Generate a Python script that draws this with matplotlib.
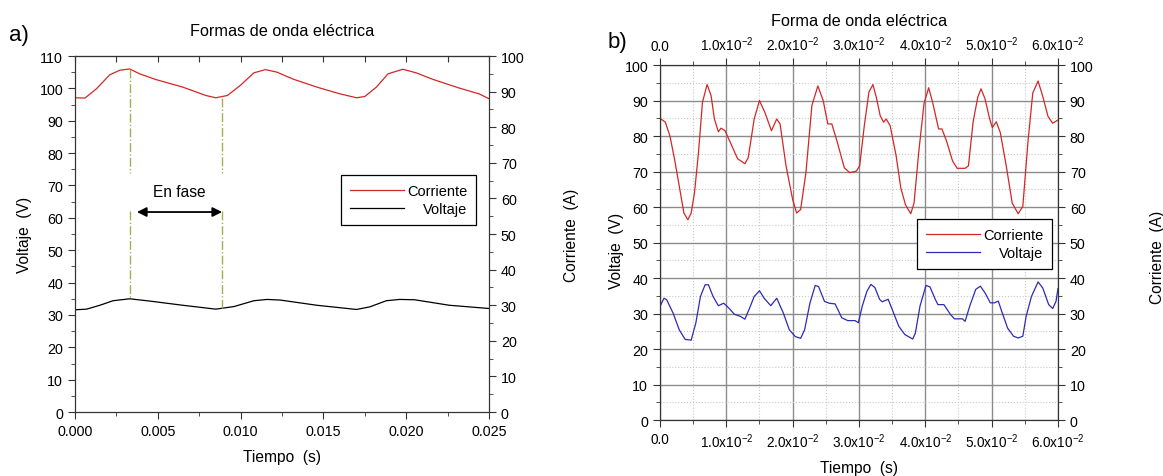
import matplotlib
matplotlib.use("Agg")
import matplotlib.pyplot as plt
from matplotlib.ticker import MultipleLocator, FixedLocator, FormatStrFormatter, NullFormatter

plt.rcParams["font.family"] = ["Liberation Sans", "DejaVu Sans"]
plt.rcParams["mathtext.fontset"] = "custom"
plt.rcParams["mathtext.rm"] = "Liberation Sans"
plt.rcParams["mathtext.it"] = "Liberation Sans"

# ── panel a) data (read off the picture) ─────────────────────────────────────
a_corr_t = [0.0, 0.0006, 0.0013, 0.0021, 0.0027, 0.0033, 0.0039, 0.0049, 0.0065,
            0.0079, 0.0085, 0.0092, 0.0100, 0.0108, 0.0115, 0.0122, 0.0132, 0.0146,
            0.0160, 0.0170, 0.0175, 0.0182, 0.0189, 0.0198, 0.0206, 0.0216, 0.0232,
            0.0244, 0.0250]
a_corr_v = [97.1, 97.0, 99.9, 104.2, 105.6, 106.0, 104.5, 102.7, 100.4,
            97.8, 97.1, 97.8, 101.0, 104.8, 105.8, 105.0, 102.8, 100.4,
            98.3, 97.1, 97.5, 100.4, 104.5, 105.9, 104.8, 102.8, 100.1,
            98.3, 96.8]
a_volt_t = [0.0, 0.0007, 0.0015, 0.0023, 0.0033, 0.0045, 0.0065, 0.0085, 0.0096,
            0.0108, 0.0116, 0.0124, 0.0146, 0.0170, 0.0178, 0.0188, 0.0196, 0.0205,
            0.0226, 0.0250]
a_volt_v = [31.6, 31.8, 33.0, 34.4, 35.0, 34.3, 33.0, 31.8, 32.6,
            34.4, 34.8, 34.6, 33.0, 31.7, 32.5, 34.4, 34.8, 34.7,
            33.0, 32.0]
phase_t = [0.0033, 0.00888]
phase_segments = [[(106, 74), (62, 35)], [(97, 74), (62, 32)]]
arrow_t = (0.00374, 0.00888)
arrow_v = 61.8

# ── panel b) data ────────────────────────────────────────────────────────────
b_corr_t = [0.0, 0.0008, 0.0015, 0.0022, 0.0029, 0.0036, 0.0042, 0.0047, 0.0052,
            0.0058, 0.0064, 0.0071, 0.0077, 0.0082, 0.0088, 0.0092, 0.0098, 0.0105,
            0.0117, 0.0128, 0.0133, 0.0142, 0.0150, 0.0158, 0.0168, 0.0176, 0.0181,
            0.0190, 0.0200, 0.0206, 0.0212, 0.0220, 0.0229, 0.0238, 0.0246, 0.0253,
            0.0259, 0.0266, 0.0278, 0.0286, 0.0296, 0.0301, 0.0308, 0.0315, 0.0321,
            0.0326, 0.0332, 0.0337, 0.0341, 0.0347, 0.0356, 0.0363, 0.0370, 0.0378,
            0.0383, 0.0390, 0.0398, 0.0405, 0.0411, 0.0420, 0.0425, 0.0432, 0.0441,
            0.0448, 0.0460, 0.0465, 0.0472, 0.0479, 0.0484, 0.0490, 0.0497, 0.0501,
            0.0507, 0.0513, 0.0522, 0.0531, 0.0540, 0.0547, 0.0555, 0.0562, 0.0570,
            0.0577, 0.0585, 0.0592, 0.0600]
b_corr_v = [85.0, 83.9, 80.0, 73.4, 65.9, 58.3, 56.4, 58.3, 64.0,
            75.3, 89.5, 94.5, 91.4, 84.8, 81.2, 82.2, 81.5, 78.6,
            73.6, 72.2, 73.9, 84.8, 90.0, 86.7, 81.5, 84.8, 83.4,
            71.6, 62.1, 58.3, 59.3, 69.7, 88.6, 94.1, 90.0, 83.4,
            83.4, 79.1, 71.0, 69.7, 70.1, 71.6, 82.9, 92.4, 94.5,
            91.0, 85.7, 83.9, 84.8, 82.9, 74.4, 65.4, 60.7, 58.1,
            61.1, 75.3, 89.1, 93.6, 89.5, 82.0, 82.0, 78.6, 73.0,
            70.9, 70.9, 71.6, 83.9, 90.9, 93.3, 90.5, 84.8, 82.4,
            84.0, 81.0, 71.6, 61.1, 58.1, 60.2, 78.9, 92.1, 95.5,
            91.2, 85.5, 83.6, 84.5]
b_volt_t = [0.0, 0.0006, 0.0010, 0.0020, 0.0029, 0.0038, 0.0047, 0.0054, 0.0061,
            0.0068, 0.0073, 0.0080, 0.0088, 0.0096, 0.0104, 0.0112, 0.0121, 0.0128,
            0.0135, 0.0142, 0.0150, 0.0157, 0.0167, 0.0176, 0.0186, 0.0195, 0.0204,
            0.0212, 0.0218, 0.0226, 0.0234, 0.0239, 0.0248, 0.0255, 0.0264, 0.0274,
            0.0283, 0.0294, 0.0299, 0.0305, 0.0312, 0.0318, 0.0324, 0.0331, 0.0335,
            0.0344, 0.0351, 0.0360, 0.0369, 0.0381, 0.0385, 0.0392, 0.0401, 0.0407,
            0.0415, 0.0419, 0.0428, 0.0438, 0.0444, 0.0456, 0.0460, 0.0467, 0.0476,
            0.0483, 0.0490, 0.0498, 0.0504, 0.0510, 0.0515, 0.0524, 0.0533, 0.0540,
            0.0547, 0.0552, 0.0560, 0.0570, 0.0577, 0.0586, 0.0592, 0.0597, 0.0600]
b_volt_v = [32.0, 34.3, 33.9, 30.0, 25.4, 22.7, 22.5, 27.3, 34.8,
            38.1, 38.1, 34.8, 32.2, 32.9, 31.5, 29.8, 29.2, 28.4,
            31.5, 34.8, 36.4, 34.3, 32.2, 34.3, 30.1, 25.4, 23.5,
            23.0, 25.4, 32.9, 37.9, 37.6, 33.4, 32.9, 32.7, 28.8,
            28.0, 28.0, 27.4, 32.1, 36.3, 38.2, 37.3, 34.0, 33.3,
            34.0, 30.7, 26.4, 24.1, 22.8, 24.5, 32.1, 37.9, 37.5,
            34.0, 32.5, 32.5, 29.7, 28.5, 28.5, 27.8, 32.1, 36.8,
            37.7, 35.8, 33.0, 33.0, 33.5, 30.7, 25.9, 23.6, 23.1,
            23.6, 29.2, 34.8, 38.9, 37.2, 32.5, 31.4, 33.4, 37.0]
b_xticks = [0.0, 0.01, 0.02, 0.03, 0.04, 0.05, 0.06]
b_xticklabels = ["0.0"] + [rf"{k}.0x10$^{{-2}}$" for k in range(1, 7)]

RED = "#d42626"
BLUE = "#2c2cb4"
OLIVE = "#9fb252"
SPINE = "#333333"
FS = 10.3
LFS = 11.2
TFS = 11.7


def style_ticks(a, **kw):
    a.tick_params(which="both", direction="out", labelsize=FS, colors=SPINE,
                  labelcolor="black", **kw)
    a.tick_params(which="major", length=5)
    a.tick_params(which="minor", length=3)
    for s in a.spines.values():
        s.set_color(SPINE)


def make_legend(a, anchor):
    leg = a.legend(loc="upper right", bbox_to_anchor=anchor, fontsize=10.5,
                   handlelength=3.7, handletextpad=0.2, fancybox=False,
                   edgecolor="black", framealpha=1, borderpad=0.6,
                   borderaxespad=0, labelspacing=0.3)
    leg.get_frame().set_linewidth(0.9)
    return leg


def right_align_legend(fig, leg):
    # Origin-style legend: labels flush right
    fig.canvas.draw()
    r = fig.canvas.get_renderer()
    texts = leg.get_texts()
    widths = [t.get_window_extent(r).width for t in texts]
    wmax = max(widths)
    for t, w in zip(texts, widths):
        t.set_x(wmax - w)


fig = plt.figure(figsize=(11.63, 4.77), dpi=100)

# ── a) ────────────────────────────────────────────────────────────────────────
ax = fig.add_axes([0.0645, 0.134, 0.356, 0.7465])
ax.plot(a_corr_t, a_corr_v, color=RED, lw=0.9, label="Corriente")
ax.plot(a_volt_t, a_volt_v, color="black", lw=0.9, label="Voltaje")
for t, segs in zip(phase_t, phase_segments):
    for v1, v2 in segs:
        ax.plot([t, t], [v1, v2], color=OLIVE, ls="-.", lw=1.0)
ax.annotate("", xy=(arrow_t[0], arrow_v), xytext=(arrow_t[1], arrow_v),
            arrowprops=dict(arrowstyle="<|-|>", color="black", lw=1.3,
                            mutation_scale=14, shrinkA=0, shrinkB=0))
ax.text(sum(arrow_t) / 2, 68, "En fase", ha="center", va="center", fontsize=LFS)
ax.set_xlim(0, 0.025)
ax.set_ylim(0, 110)
ax.xaxis.set_major_locator(MultipleLocator(0.005))
ax.xaxis.set_minor_locator(MultipleLocator(0.0025))
ax.yaxis.set_major_locator(MultipleLocator(10))
ax.yaxis.set_minor_locator(MultipleLocator(5))
ax.xaxis.set_major_formatter(FormatStrFormatter("%.3f"))
style_ticks(ax)
ax.set_xlabel("Tiempo  (s)", fontsize=LFS)
ax.xaxis.set_label_coords(0.5, -0.104)
ax.set_ylabel("Voltaje  (V)", fontsize=LFS)
ax.yaxis.set_label_coords(-0.104, 0.5)
ax.set_title("Formas de onda eléctrica", fontsize=TFS, pad=15)
top = ax.secondary_xaxis("top")
top.xaxis.set_major_locator(MultipleLocator(0.0025))
top.xaxis.set_major_formatter(NullFormatter())
top.tick_params(direction="in", length=4, colors=SPINE)
top.spines["top"].set_color(SPINE)
axr = ax.twinx()
axr.set_ylim(0, 100)
axr.yaxis.set_major_locator(MultipleLocator(10))
axr.yaxis.set_minor_locator(MultipleLocator(5))
style_ticks(axr)
axr.set_ylabel("Corriente  (A)", fontsize=LFS)
axr.yaxis.set_label_coords(1.18, 0.5)
leg = make_legend(ax, (0.968, 0.666))
fig.text(0.008, 0.915, "a)", fontsize=16)

# ── b) ────────────────────────────────────────────────────────────────────────
bx = fig.add_axes([0.5675, 0.1174, 0.3422, 0.7442])
bx.plot(b_corr_t, b_corr_v, color=RED, lw=0.9, label="Corriente")
bx.plot(b_volt_t, b_volt_v, color=BLUE, lw=0.9, label="Voltaje")
bx.set_xlim(0, 0.06)
bx.set_ylim(0, 100)
bx.xaxis.set_major_locator(FixedLocator(b_xticks))
bx.set_xticklabels(b_xticklabels)
bx.xaxis.set_minor_locator(MultipleLocator(0.005))
bx.yaxis.set_major_locator(MultipleLocator(10))
bx.yaxis.set_minor_locator(MultipleLocator(5))
bx.grid(True, which="major", color="#8c8c8c", lw=1.0)
bx.grid(True, which="minor", color="#c8c8c8", lw=0.8, ls=":")
bx.set_axisbelow(True)
style_ticks(bx, top=True, labeltop=True)
bx.tick_params(axis="x", labelsize=9.8)
bx.set_xlabel("Tiempo  (s)", fontsize=LFS)
bx.xaxis.set_label_coords(0.5, -0.113)
bx.set_ylabel("Voltaje  (V)", fontsize=LFS)
bx.yaxis.set_label_coords(-0.09, 0.48)
bx.set_title("Forma de onda eléctrica", fontsize=TFS, pad=7)
bxr = bx.twinx()
bxr.set_ylim(0, 100)
bxr.yaxis.set_major_locator(MultipleLocator(10))
bxr.yaxis.set_minor_locator(MultipleLocator(5))
style_ticks(bxr)
bxr.set_ylabel("Corriente  (A)", fontsize=LFS)
bxr.yaxis.set_label_coords(1.23, 0.46)
legb = make_legend(bx, (0.985, 0.566))
fig.text(0.522, 0.9, "b)", fontsize=16)

right_align_legend(fig, leg)
right_align_legend(fig, legb)

fig.savefig("out.png", dpi=100)
